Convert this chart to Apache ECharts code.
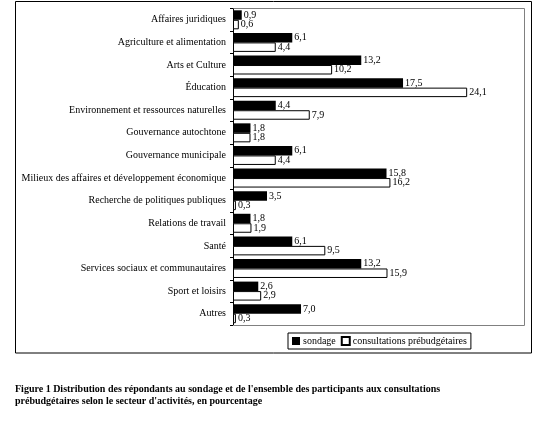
<!DOCTYPE html>
<html>
<head>
<meta charset="utf-8">
<script src="https://cdn.jsdelivr.net/npm/echarts@6/dist/echarts.min.js"></script>
<style>html,body{margin:0;padding:0;background:#fff;}#c{width:547px;height:425px;}</style>
</head>
<body>
<div id="c"></div>
<script>
var categories = ["Affaires juridiques","Agriculture et alimentation","Arts et Culture","Éducation","Environnement et ressources naturelles","Gouvernance autochtone","Gouvernance municipale","Milieux des affaires et développement économique","Recherche de politiques publiques","Relations de travail","Santé","Services sociaux et communautaires","Sport et loisirs","Autres"];
var sondage = [0.9, 6.1, 13.2, 17.5, 4.4, 1.8, 6.1, 15.8, 3.5, 1.8, 6.1, 13.2, 2.6, 7.0];
var consultations = [0.6, 4.4, 10.2, 24.1, 7.9, 1.8, 4.4, 16.2, 0.3, 1.9, 9.5, 15.9, 2.9, 0.3];
var seriesNames = ["sondage", "consultations prébudgétaires"];
var captionLines = ["Figure 1 Distribution des répondants au sondage et de l'ensemble des participants aux consultations", "prébudgétaires selon le secteur d'activités, en pourcentage"];

var serif = "Liberation Serif";
var fmt = function (p) { return p.value.toFixed(1).replace('.', ','); };
var chart = echarts.init(document.getElementById('c'), null, {renderer: 'canvas'});
chart.setOption({
  animation: false,
  backgroundColor: '#fff',
  title: {
    text: captionLines.join('\n'),
    left: 15, top: 383, padding: 0,
    textStyle: {fontFamily: serif, fontSize: 10, fontWeight: 'bold', color: '#000', lineHeight: 12}
  },
  grid: {left: 233, top: 8.5, right: 22.5, bottom: 100, show: false},
  legend: {
    left: 288, top: 333, width: 180,
    padding: [3, 4, 3, 4],
    borderColor: '#000', borderWidth: 1,
    itemWidth: 8, itemHeight: 8, itemGap: 5,
    icon: 'rect',
    textStyle: {fontFamily: serif, fontSize: 10, color: '#000', padding: [0, 0, 0, -2]},
    data: seriesNames
  },
  xAxis: {type: 'value', min: 0, max: 30, show: false, splitLine: {show: false}},
  yAxis: {
    type: 'category', data: categories, inverse: true,
    axisLine: {lineStyle: {color: '#000', width: 1}},
    axisTick: {show: true, length: 3, lineStyle: {color: '#000'}},
    axisLabel: {fontFamily: serif, fontSize: 10, color: '#000', margin: 7}
  },
  series: [
    {
      name: seriesNames[0], type: 'bar', data: sondage,
      barGap: '0%', barCategoryGap: '16%',
      itemStyle: {color: '#000'},
      label: {show: true, position: 'right', distance: 2, formatter: fmt, fontFamily: serif, fontSize: 10, color: '#000'}
    },
    {
      name: seriesNames[1], type: 'bar', data: consultations,
      barGap: '0%', barCategoryGap: '16%',
      itemStyle: {color: '#fff', borderColor: '#000', borderWidth: 1},
      label: {show: true, position: 'right', distance: 2, formatter: fmt, fontFamily: serif, fontSize: 10, color: '#000'}
    }
  ],
  graphic: [
    {type: 'polyline', shape: {points: [[233.5, 8.5], [524.5, 8.5], [524.5, 325.5], [233.5, 325.5]]}, style: {fill: null, stroke: '#808080', lineWidth: 1}, silent: true, z: 1},
    {type: 'rect', shape: {x: 15.5, y: 1.5, width: 516, height: 351.5}, style: {fill: null, stroke: '#000', lineWidth: 1}, silent: true, z: 100}
  ]
});
</script>
</body>
</html>
